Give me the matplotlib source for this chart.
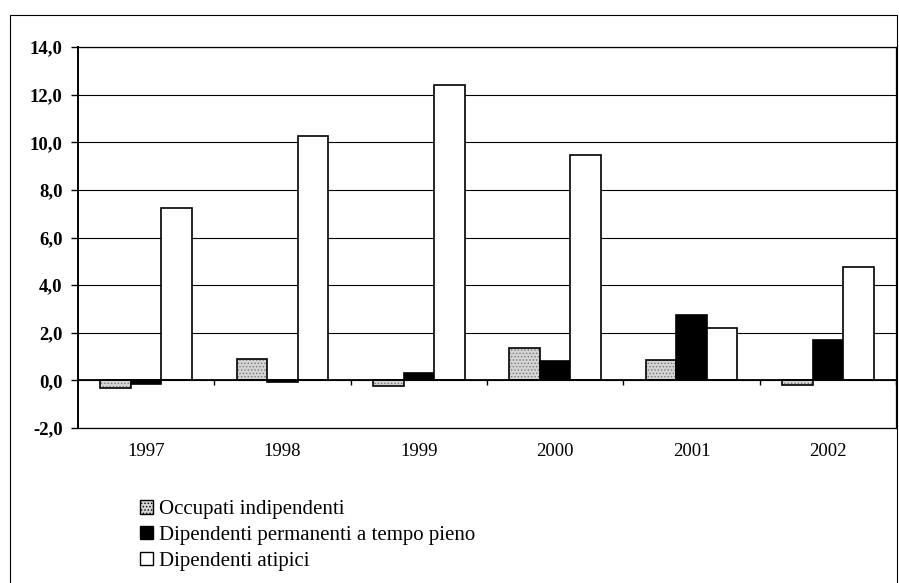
import matplotlib
matplotlib.use('Agg')
import matplotlib.pyplot as plt
import numpy as np
from matplotlib.patches import Patch, Rectangle

# data
years = ['1997', '1998', '1999', '2000', '2001', '2002']
occupati_indip = [-0.3, 0.9, -0.25, 1.35, 0.85, -0.2]
dip_permanenti = [-0.15, -0.05, 0.3, 0.8, 2.75, 1.7]
dip_atipici = [7.25, 10.25, 12.4, 9.45, 2.2, 4.75]
labels = ['Occupati indipendenti',
          'Dipendenti permanenti a tempo pieno',
          'Dipendenti atipici']
yticks = [-2, 0, 2, 4, 6, 8, 10, 12, 14]

plt.rcParams['font.family'] = ['Liberation Serif', 'DejaVu Serif']
plt.rcParams['hatch.linewidth'] = 0.6

fig = plt.figure(figsize=(8.99, 5.83), dpi=100)
ax = fig.add_axes([78 / 899, 1 - 428 / 583, 818 / 899, 381 / 583])

x = np.arange(len(years))
w = 0.224

# occupati: stippled grey, drawn as fill + outline
ax.bar(x - w, occupati_indip, w, color='#d4d4d4', hatch='.....',
       edgecolor='#777777', linewidth=0, zorder=2)
ax.bar(x - w, occupati_indip, w, fill=False, edgecolor='black',
       linewidth=1.2, zorder=3)
ax.bar(x, dip_permanenti, w, color='black', edgecolor='black',
       linewidth=1.2, zorder=3)
ax.bar(x + w, dip_atipici, w, color='white', edgecolor='black',
       linewidth=1.2, zorder=3)

ax.set_xlim(-0.5, len(years) - 0.5)
ax.set_ylim(-2, 14)
ax.set_yticks(yticks)
ax.set_yticklabels([f'{v:.1f}'.replace('.', ',') for v in yticks],
                   fontsize=13.5, fontweight='bold')
ax.yaxis.grid(True, color='black', linewidth=0.8)
ax.set_axisbelow(True)
ax.tick_params(axis='y', direction='out', length=5, width=1, pad=6)

ax.set_xticks(x)
ax.set_xticklabels(years, fontsize=13.5)
ax.tick_params(axis='x', length=0, pad=11)

# category axis sits on zero with ticks between groups
ax.axhline(0, color='black', linewidth=1.3, zorder=4)
ax.vlines(np.arange(len(years)) + 0.5, -0.18, 0, color='black',
          linewidth=1, zorder=4)

for s in ax.spines.values():
    s.set_color('black')
    s.set_linewidth(0.9)
ax.spines['left'].set_linewidth(1.4)

handles = [Patch(facecolor='#d4d4d4', hatch='.....', edgecolor='black', linewidth=1),
           Patch(facecolor='black', edgecolor='black', linewidth=1),
           Patch(facecolor='white', edgecolor='black', linewidth=1)]
fig.legend(handles, labels, loc='upper left', bbox_to_anchor=(132 / 899, 1 - 492 / 583),
           frameon=False, fontsize=15, handlelength=0.6, handleheight=0.6,
           handletextpad=0.3, labelspacing=0.33, borderaxespad=0)

# outer chart border
fig.patches.append(Rectangle((10 / 899, -0.05), 887 / 899, 1.05 - 15 / 583,
                             transform=fig.transFigure, fill=False,
                             edgecolor='black', linewidth=0.8))

fig.savefig('out.png', dpi=100)
